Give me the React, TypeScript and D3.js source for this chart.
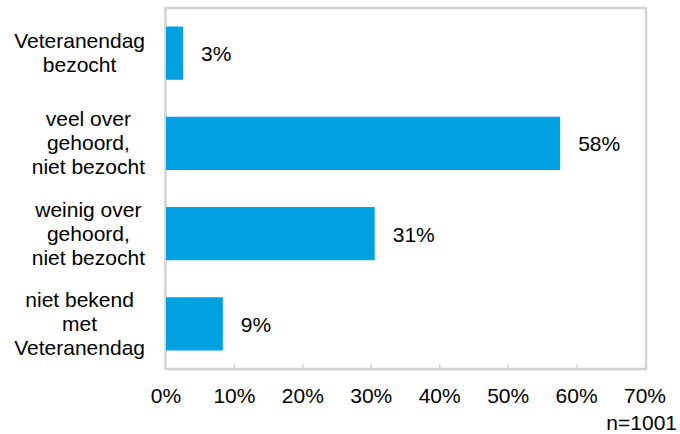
import React, { useEffect, useRef } from "react";
import * as d3 from "d3";

const categories = [
  ["Veteranendag", "bezocht"],
  ["veel over", "gehoord,", "niet bezocht"],
  ["weinig over", "gehoord,", "niet bezocht"],
  ["niet bekend", "met", "Veteranendag"],
];
const values = [2.5, 57.6, 30.5, 8.3];
const valueLabels = ["3%", "58%", "31%", "9%"];
const xTicks = [0, 10, 20, 30, 40, 50, 60, 70];
const note = "n=1001";

const FONT = "'Liberation Sans', Arial, sans-serif";
const BAR = "#00a1e0";
const GRID = "#d3d3d3";

function App() {
  const svgRef = useRef<SVGSVGElement>(null);

  useEffect(() => {
    const svg = d3.select(svgRef.current);
    svg.selectAll("*").remove();

    const left = 166;
    const right = 645;
    const top = 8;
    const bottom = 369;
    const fontSize = 21;

    const x = d3.scaleLinear().domain([0, 70]).range([left, right]);
    const y = d3
      .scaleBand()
      .domain(categories.map((d, i) => String(i)))
      .range([top, bottom])
      .paddingInner(0.41)
      .paddingOuter(0.205);

    // plot frame
    svg
      .append("rect")
      .attr("x", left - 0.5)
      .attr("y", top)
      .attr("width", right - left + 1.5)
      .attr("height", bottom - top)
      .attr("fill", "none")
      .attr("stroke", GRID)
      .attr("stroke-width", 2.5);

    // small ticks on the bottom axis
    svg
      .selectAll(".tick")
      .data(xTicks.slice(1, -1))
      .enter()
      .append("line")
      .attr("x1", (d) => x(d))
      .attr("x2", (d) => x(d))
      .attr("y1", bottom)
      .attr("y2", bottom - 5)
      .attr("stroke", GRID)
      .attr("stroke-width", 1.5);

    svg
      .selectAll(".tickLabel")
      .data(xTicks)
      .enter()
      .append("text")
      .attr("x", (d) => x(d))
      .attr("y", 403)
      .attr("text-anchor", "middle")
      .attr("font-family", FONT)
      .attr("font-size", fontSize)
      .attr("fill", "#000")
      .text((d) => d + "%");

    // bars
    svg
      .selectAll(".bar")
      .data(values)
      .enter()
      .append("rect")
      .attr("x", x(0))
      .attr("y", (d, i) => y(String(i)) as number)
      .attr("width", (d) => x(d) - x(0))
      .attr("height", y.bandwidth())
      .attr("fill", BAR);

    // value labels
    svg
      .selectAll(".val")
      .data(values)
      .enter()
      .append("text")
      .attr("x", (d) => x(d) + 18)
      .attr("y", (d, i) => (y(String(i)) as number) + y.bandwidth() / 2 + 8)
      .attr("font-family", FONT)
      .attr("font-size", fontSize)
      .attr("fill", "#000")
      .text((d, i) => valueLabels[i]);

    // category labels: lines centred on each other, block right-aligned
    const labelRight = 145;
    const lineH = 24;
    categories.forEach((lines, i) => {
      const cy = (y(String(i)) as number) + y.bandwidth() / 2;
      const g = svg.append("g");
      const texts = g
        .selectAll("text")
        .data(lines)
        .enter()
        .append("text")
        .attr("y", (d, j) => cy + 7 + (j - (lines.length - 1) / 2) * lineH)
        .attr("text-anchor", "middle")
        .attr("font-family", FONT)
        .attr("font-size", fontSize)
        .attr("fill", "#000")
        .text((d) => d);
      let maxW = 0;
      texts.each(function () {
        maxW = Math.max(maxW, (this as SVGTextElement).getComputedTextLength());
      });
      texts.attr("x", labelRight - maxW / 2);
    });

    svg
      .append("text")
      .attr("x", 677)
      .attr("y", 430)
      .attr("text-anchor", "end")
      .attr("font-family", FONT)
      .attr("font-size", fontSize)
      .attr("fill", "#000")
      .text(note);
  }, []);

  return (
    <svg
      ref={svgRef}
      width={680}
      height={434}
      style={{ position: "absolute", left: 0, top: 0, background: "#fff" }}
    />
  );
}

export default App;
